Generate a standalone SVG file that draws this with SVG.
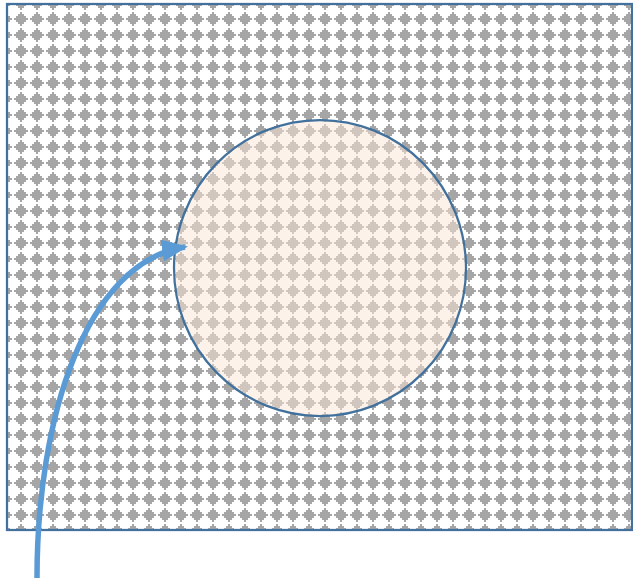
<svg xmlns="http://www.w3.org/2000/svg" width="633" height="580" viewBox="0 0 633 580">
  <style>
    .frame { stroke: #41719C; stroke-width: 2.25; }
    .conn { fill: none; stroke: #5B9BD5; stroke-width: 5.5; }
  </style>
  <defs>
    <pattern id="dia" patternUnits="userSpaceOnUse" x="-3" y="-5" width="16" height="16">
      <path d="M7,1 H9 V3 H11 V5 H13 V7 H15 V9 H13 V11 H11 V13 H9 V15 H7 V13 H5 V11 H3 V9 H1 V7 H3 V5 H5 V3 H7 Z" fill="#A6A6A6"/>
    </pattern>
    <marker id="ah" markerUnits="userSpaceOnUse" markerWidth="26" markerHeight="22" refX="23" refY="11" orient="auto" viewBox="0 0 26 22">
      <path d="M0,0 L26,11 L0,22 Z" fill="#5B9BD5"/>
    </marker>
  </defs>
  <rect width="633" height="580" fill="#FFFFFF"/>
  <g id="background">
    <rect x="7" y="4" width="625" height="526" fill="url(#dia)" class="frame"/>
  </g>
  <g id="circle">
    <ellipse cx="320" cy="268" rx="146" ry="148" fill="#FBE5D6" fill-opacity="0.5" class="frame"/>
  </g>
  <g id="connectors">
    <path class="conn" d="M37,578 C37,420 85,262 185,247" marker-end="url(#ah)"/>
  </g>
</svg>
